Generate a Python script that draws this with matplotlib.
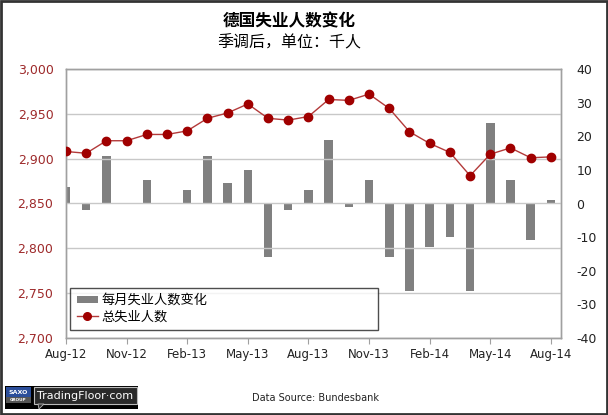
import numpy as np
import matplotlib
matplotlib.use("Agg")
import matplotlib.pyplot as plt
from matplotlib.patches import Rectangle, Polygon
from matplotlib.ticker import FuncFormatter, MultipleLocator
from matplotlib.lines import Line2D
from matplotlib.patches import Patch

plt.rcParams['font.family'] = ['DejaVu Sans', 'Noto Sans CJK SC']
plt.rcParams['axes.unicode_minus'] = False

# ---- data ----
tick_labels = ['Aug-12', 'Nov-12', 'Feb-13', 'May-13', 'Aug-13',
               'Nov-13', 'Feb-14', 'May-14', 'Aug-14']
total_unemployed = [2908, 2906, 2920, 2920, 2927, 2927, 2931, 2945, 2951,
                    2961, 2945, 2943, 2947, 2966, 2965, 2972, 2956, 2930,
                    2917, 2907, 2881, 2905, 2912, 2901, 2902]
monthly_change = [5, -2, 14, 0, 7, 0, 4, 14, 6, 10, -16, -2, 4, 19, -1, 7,
                  -16, -26, -13, -10, -26, 24, 7, -11, 1]
series_bar_name = '每月失业人数变化'
series_line_name = '总失业人数'
title = '德国失业人数变化'
subtitle = '季调后，单位：千人'
source = 'Data Source: Bundesbank'

W, H = 608, 415
fig = plt.figure(figsize=(W / 100, H / 100), dpi=100)
fig.patch.set_facecolor('white')

L, R, T, B = 66, 561, 69, 338
ax = fig.add_axes([L / W, 1 - B / H, (R - L) / W, (B - T) / H])
ax2 = ax.twinx()
ax.set_zorder(2)
ax2.set_zorder(1)
ax.patch.set_visible(False)
ax2.patch.set_facecolor('white')

x = np.arange(len(total_unemployed))
red_text = '#9E2A2B'
cjk = ['Noto Sans CJK SC', 'DejaVu Sans']

# bars on right axis
ax2.bar(x, monthly_change, width=0.42, color='#808080', zorder=2)
ax2.set_ylim(-40, 40)
ax2.yaxis.set_major_locator(MultipleLocator(10))
ax2.tick_params(axis='y', length=0, pad=11, labelsize=9, labelcolor='#222222')

# line on left axis
ax.plot(x, total_unemployed, color='#B33A3A', lw=1.0, marker='o',
        markersize=6, markerfacecolor='#A00000', markeredgecolor='#A00000',
        zorder=3)
ax.set_ylim(2700, 3000)
ax.yaxis.set_major_locator(MultipleLocator(50))
ax.yaxis.set_major_formatter(FuncFormatter(lambda v, p: f'{int(v):,}'))
ax.tick_params(axis='y', length=0, pad=9, labelsize=9, labelcolor=red_text)
ax.grid(axis='y', color='#C8C8C8', lw=1.0)
ax.set_axisbelow(True)

ax.set_xlim(0, 24.5)
ax.set_xticks(list(range(0, len(total_unemployed), 3)))
ax.set_xticklabels(tick_labels)
ax.tick_params(axis='x', length=4, color='#A0A0A0', pad=3, labelsize=8.5,
               labelcolor='#222222')
ax2.tick_params(axis='x', length=0)

for a in (ax, ax2):
    for s in a.spines.values():
        s.set_color('#A0A0A0')
        s.set_linewidth(1.0)

handles = [Patch(facecolor='#808080', edgecolor='none'),
           Line2D([0], [0], color='#B33A3A', lw=1.0, marker='o', markersize=5.5,
                  markerfacecolor='#A00000', markeredgecolor='#A00000')]
leg = ax.legend(handles, [series_bar_name, series_line_name],
                loc='lower left', bbox_to_anchor=(4 / 495, 8 / 269, 308 / 495, 0.17),
                mode='expand', borderaxespad=0, fancybox=False, frameon=True,
                prop={'family': cjk, 'size': 9.5}, handlelength=1.6,
                handleheight=0.5, handletextpad=0.3, labelspacing=0.25,
                borderpad=0.5)
leg.get_frame().set_edgecolor('#222222')
leg.get_frame().set_linewidth(1.0)

# titles
fig.text(289 / W, 1 - 21 / H, title, ha='center', va='center', fontsize=12,
         fontweight='bold', family=cjk)
fig.text(289 / W, 1 - 43 / H, subtitle, ha='center', va='center',
         fontsize=11.5, family=cjk)
fig.text(315 / W, 1 - 398 / H, source, ha='center', va='center', fontsize=7,
         color='#222222')

# footer logo
def frect(x0, y0, x1, y1, **kw):
    fig.patches.append(Rectangle((x0 / W, 1 - y1 / H), (x1 - x0) / W,
                                 (y1 - y0) / H, transform=fig.transFigure, **kw))

frect(5, 386, 138, 409, facecolor='black', edgecolor='none')
frect(6, 387, 31, 397, facecolor='#2B4E9A', edgecolor='none')
frect(6, 397, 31, 403, facecolor='#555555', edgecolor='none')
fig.text(18.5 / W, 1 - 392 / H, 'SAXO', ha='center', va='center', fontsize=4.5,
         color='white', fontweight='bold')
fig.text(18.5 / W, 1 - 400 / H, 'GROUP', ha='center', va='center', fontsize=3,
         color='white', fontweight='bold')
frect(34, 387, 137, 404, facecolor='#2A2A2A', edgecolor='#BBBBBB', linewidth=0.8)
fig.patches.append(Polygon([(38 / W, 1 - 404 / H), (44 / W, 1 - 404 / H),
                            (39 / W, 1 - 409 / H)], closed=True,
                           transform=fig.transFigure, facecolor='#2A2A2A',
                           edgecolor='#BBBBBB', linewidth=0.6))
fig.text(85.5 / W, 1 - 395.5 / H, 'TradingFloor·com', ha='center', va='center',
         fontsize=8, color='white')

# outer border
fig.patches.append(Rectangle((0.0015, 0.002), 0.997, 0.996, transform=fig.transFigure,
                             fill=False, edgecolor='#333333', linewidth=2))

fig.savefig('out.png', dpi=100)
